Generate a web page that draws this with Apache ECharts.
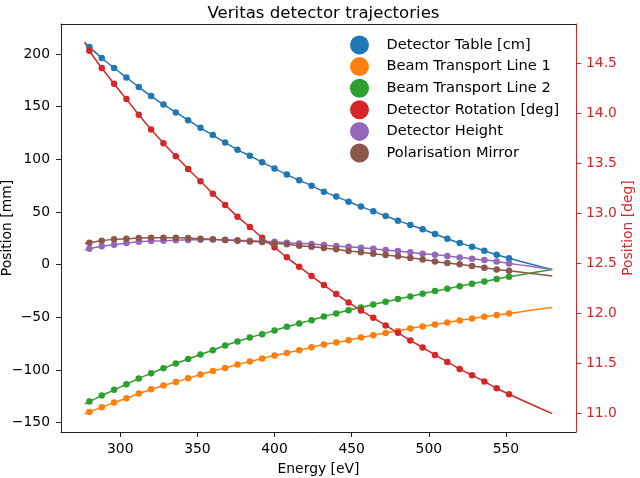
<!DOCTYPE html>
<html>
<head>
<meta charset="utf-8">
<script src="https://cdn.jsdelivr.net/npm/echarts@6/dist/echarts.min.js"></script>
<style>html,body{margin:0;padding:0;background:#fff}#c{width:640px;height:478px}</style>
</head>
<body>
<div id="c"></div>
<script>
// ---- data ----
const energy = [280,288,296,304,312,320,328,336,344,352,360,368,376,384,392,400,408,416,424,432,440,448,456,464,472,480,488,496,504,512,520,528,536,544,552];
const detectorTable = [206.7,196.2,186.7,177.8,168.6,160.1,152.1,144.5,137.2,129.9,123.0,115.9,109.0,103.3,97.3,91.2,85.5,80.1,75.0,69.3,64.6,59.8,55.1,50.7,46.2,41.8,37.7,33.6,29.1,24.6,20.5,17.0,13.2,9.4,6.0];
const beamLine1 = [-139.9,-135.4,-131.0,-126.9,-122.4,-118.3,-114.8,-111.4,-107.9,-104.3,-100.9,-98.1,-94.8,-92.0,-89.1,-86.3,-83.8,-81.2,-78.4,-75.8,-73.9,-71.7,-69.2,-67.0,-64.8,-62.9,-60.6,-58.7,-56.8,-54.9,-53.0,-51.1,-49.5,-47.9,-46.3];
const beamLine2 = [-130.0,-124.3,-118.9,-113.6,-108.1,-103.1,-98.3,-93.9,-89.5,-85.3,-81.2,-76.8,-72.9,-69.1,-66.0,-62.5,-59.0,-55.9,-52.7,-49.2,-46.3,-43.2,-40.7,-37.8,-35.3,-32.7,-30.2,-27.6,-25.1,-22.9,-20.4,-18.2,-15.9,-13.7,-11.5];
const detectorRotation = [14.623,14.45,14.293,14.14,13.983,13.836,13.70,13.57,13.443,13.32,13.196,13.083,12.966,12.863,12.756,12.66,12.56,12.466,12.373,12.283,12.193,12.11,12.03,11.956,11.88,11.806,11.73,11.66,11.586,11.516,11.446,11.383,11.32,11.253,11.193];
const detectorHeight = [15.1,17.4,18.9,20.5,21.8,22.4,22.7,23.2,23.5,23.7,23.8,23.6,23.1,22.7,22.1,21.8,20.8,20.2,19.6,18.6,17.6,17.0,16.1,15.1,13.9,12.9,11.7,10.4,9.4,8.2,6.9,5.6,4.4,3.1,1.2];
const polarisationMirror = [20.8,22.7,24.0,24.6,25.3,25.6,25.6,25.6,25.3,24.6,24.0,23.4,22.7,22.1,21.5,20.2,19.3,18.0,17.0,15.8,14.6,12.9,11.7,10.4,9.1,7.9,6.3,5.0,3.1,1.5,0.3,-1.3,-2.9,-4.5,-5.8];
// fitted-curve ends (at fitEnergy)
const fitEnergy = [277, 566, 580];
const detectorTableFit = [210.5, 0.6, -4.5];
const beamLine1Fit = [-141.6, -43.4, -40.6];
const beamLine2Fit = [-132.2, -8.0, -4.5];
const detectorRotationFit = [14.71, 11.095, 11.0];
const detectorHeightFit = [14.1, -1.6, -4.5];
const polarisationMirrorFit = [20.0, -8.3, -10.8];
const seriesNames = ['Detector Table [cm]','Beam Transport Line 1','Beam Transport Line 2','Detector Rotation [deg]','Detector Height','Polarisation Mirror'];
const xTicks = [300,350,400,450,500,550];
const yLeftTicks = [-150,-100,-50,0,50,100,150,200];
const yRightTicks = [11.0,11.5,12.0,12.5,13.0,13.5,14.0,14.5];

// ---- chart ----
const colors = ['#1f77b4','#ff7f0e','#2ca02c','#d62728','#9467bd','#8c564b'];
const vals = [detectorTable, beamLine1, beamLine2, detectorRotation, detectorHeight, polarisationMirror];
const fits = [detectorTableFit, beamLine1Fit, beamLine2Fit, detectorRotationFit, detectorHeightFit, polarisationMirrorFit];
const font = 'DejaVu Sans';
const fs = 13.9;
const series = [];
seriesNames.forEach((name, i) => {
  const yIdx = i === 3 ? 1 : 0;
  const pts = energy.map((e, k) => [e, vals[i][k]]);
  const line = [[fitEnergy[0], fits[i][0]], ...pts, [fitEnergy[1], fits[i][1]], [fitEnergy[2], fits[i][2]]];
  series.push({
    name, type: 'line', data: line, yAxisIndex: yIdx, xAxisIndex: 0,
    showSymbol: false, symbol: 'none', smooth: 0.3,
    lineStyle: {color: colors[i], width: 1.5}, itemStyle: {color: colors[i]},
    z: 2 + i, animation: false, silent: true
  });
  series.push({
    name, type: 'scatter', data: pts, yAxisIndex: yIdx, xAxisIndex: 0,
    symbol: 'circle', symbolSize: 6.5,
    itemStyle: {color: colors[i], opacity: 1}, z: 10 + i, animation: false, silent: true
  });
});

const axisLineStyle = {color: '#222', width: 1};
const chart = echarts.init(document.getElementById('c'), null, {renderer: 'canvas'});
chart.setOption({
  animation: false,
  backgroundColor: '#fff',
  textStyle: {fontFamily: font},
  title: {
    text: 'Veritas detector trajectories', left: 318.5, top: 0, textAlign: 'center',
    textStyle: {fontFamily: font, fontSize: 16.6, fontWeight: 'normal', color: '#000'}
  },
  legend: {
    orient: 'vertical', left: 345, top: 30.5, itemWidth: 19, itemHeight: 19, itemGap: 2.6,
    icon: 'circle', data: seriesNames.map(n => ({name: n, icon: 'circle'})),
    textStyle: {fontFamily: font, fontSize: 14.6, color: '#000', padding: [0, 0, 0, 12.5]},
    selectedMode: false
  },
  grid: {left: 61, right: 64, top: 24, bottom: 46, containLabel: false, outerBoundsMode: 'none'},
  xAxis: [{
    type: 'value', min: 261.6, max: 595.4, position: 'bottom',
    name: 'Energy [eV]', nameLocation: 'middle', nameGap: 30, nameMoveOverlap: false,
    nameTextStyle: {fontFamily: font, fontSize: fs, color: '#000'},
    axisLine: {show: true, onZero: false, lineStyle: axisLineStyle},
    axisTick: {show: true, inside: false, length: 5, lineStyle: axisLineStyle, customValues: xTicks},
    axisLabel: {show: true, fontFamily: font, fontSize: fs, color: '#000', margin: 10, customValues: xTicks, formatter: v => String(v)},
    splitLine: {show: false}
  }, {
    type: 'value', min: 261.6, max: 595.4, position: 'top',
    axisLine: {show: true, onZero: false, lineStyle: axisLineStyle},
    axisTick: {show: false}, axisLabel: {show: false}, splitLine: {show: false}
  }],
  yAxis: [{
    type: 'value', min: -158.9, max: 228.5, position: 'left',
    name: 'Position [mm]', nameLocation: 'middle', nameGap: 47, nameRotate: 90, nameMoveOverlap: false,
    nameTextStyle: {fontFamily: font, fontSize: fs, color: '#000'},
    axisLine: {show: true, onZero: false, lineStyle: axisLineStyle},
    axisTick: {show: true, inside: false, length: 5, lineStyle: axisLineStyle, customValues: yLeftTicks},
    axisLabel: {show: true, fontFamily: font, fontSize: fs, color: '#000', margin: 11, customValues: yLeftTicks, formatter: v => (v < 0 ? '\u2212' + Math.abs(v) : String(v))},
    splitLine: {show: false}
  }, {
    type: 'value', min: 10.816, max: 14.89, position: 'right',
    name: 'Position [deg]', nameLocation: 'middle', nameGap: 45, nameRotate: 90, nameMoveOverlap: false,
    nameTextStyle: {fontFamily: font, fontSize: fs, color: '#d62728'},
    axisLine: {show: true, onZero: false, lineStyle: {color: '#d62728', width: 1}},
    axisTick: {show: true, inside: false, length: 5, lineStyle: {color: '#d62728', width: 1}, customValues: yRightTicks},
    axisLabel: {show: true, fontFamily: font, fontSize: fs, color: '#d62728', margin: 10, customValues: yRightTicks, formatter: v => v.toFixed(1)},
    splitLine: {show: false}
  }],
  series
});
</script>
</body>
</html>
